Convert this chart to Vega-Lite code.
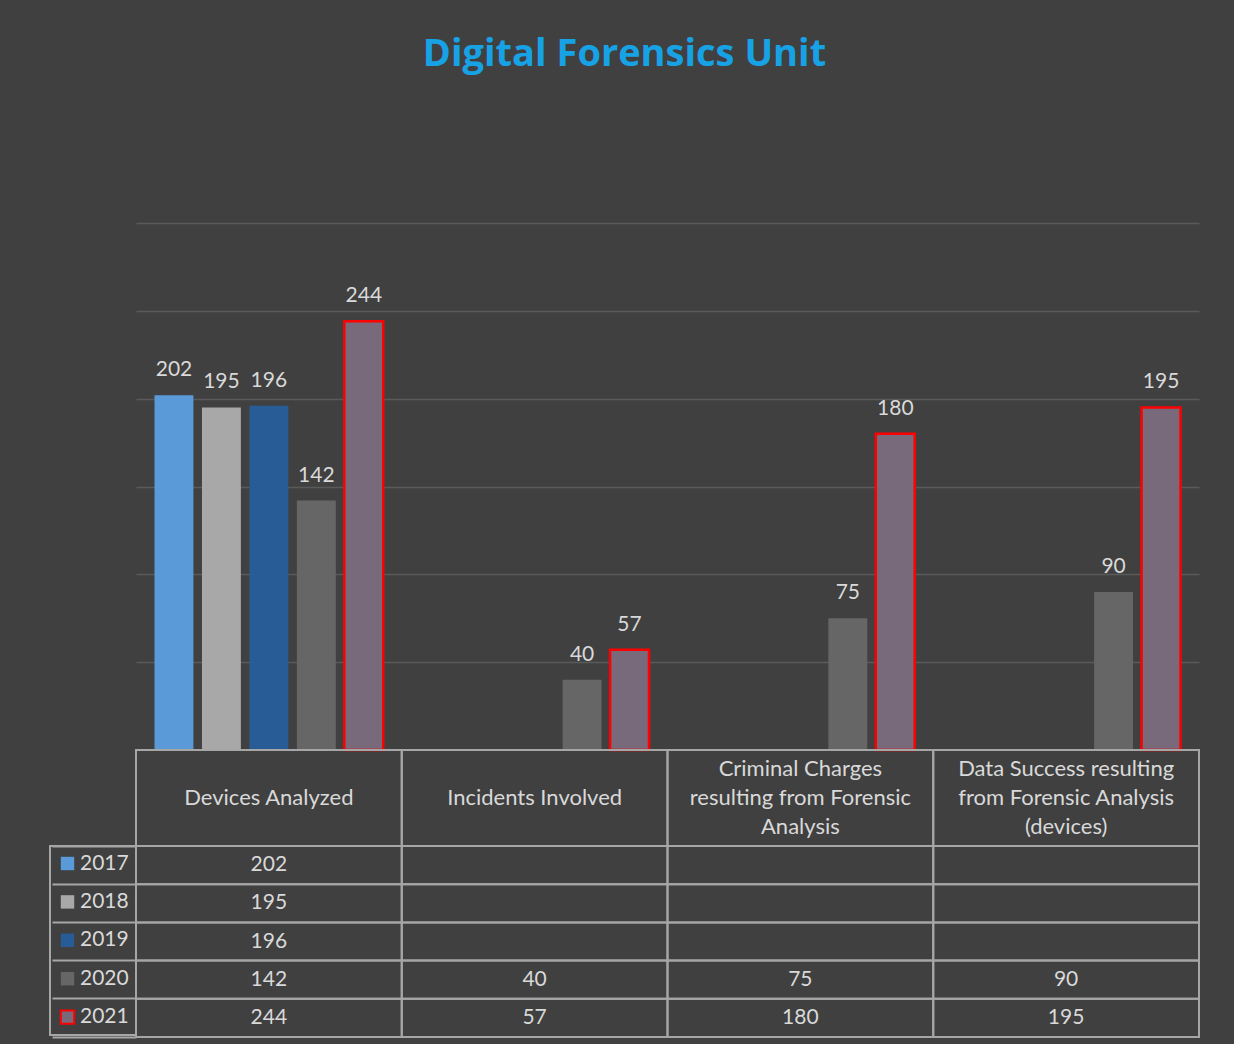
{
  "$schema": "https://vega.github.io/schema/vega-lite/v6.json",
  "background": "#404040",
  "padding": {"left": 49, "top": 36, "right": 35, "bottom": 8},
  "bounds": "flush",
  "spacing": 0,
  "title": {
    "text": "Digital Forensics Unit",
    "font": "Open Sans",
    "fontSize": 38,
    "fontWeight": "bold",
    "color": "#17a2e6",
    "anchor": "middle",
    "offset": 149
  },
  "config": {
    "view": {"stroke": null},
    "font": "Lato"
  },
  "datasets": {
    "counts": [
      {"category": "Devices Analyzed", "year": "2017", "value": 202},
      {"category": "Devices Analyzed", "year": "2018", "value": 195},
      {"category": "Devices Analyzed", "year": "2019", "value": 196},
      {"category": "Devices Analyzed", "year": "2020", "value": 142},
      {"category": "Devices Analyzed", "year": "2021", "value": 244},
      {"category": "Incidents Involved", "year": "2017", "value": null},
      {"category": "Incidents Involved", "year": "2018", "value": null},
      {"category": "Incidents Involved", "year": "2019", "value": null},
      {"category": "Incidents Involved", "year": "2020", "value": 40},
      {"category": "Incidents Involved", "year": "2021", "value": 57},
      {"category": "Criminal Charges resulting from Forensic Analysis", "year": "2017", "value": null},
      {"category": "Criminal Charges resulting from Forensic Analysis", "year": "2018", "value": null},
      {"category": "Criminal Charges resulting from Forensic Analysis", "year": "2019", "value": null},
      {"category": "Criminal Charges resulting from Forensic Analysis", "year": "2020", "value": 75},
      {"category": "Criminal Charges resulting from Forensic Analysis", "year": "2021", "value": 180},
      {"category": "Data Success resulting from Forensic Analysis (devices)", "year": "2017", "value": null},
      {"category": "Data Success resulting from Forensic Analysis (devices)", "year": "2018", "value": null},
      {"category": "Data Success resulting from Forensic Analysis (devices)", "year": "2019", "value": null},
      {"category": "Data Success resulting from Forensic Analysis (devices)", "year": "2020", "value": 90},
      {"category": "Data Success resulting from Forensic Analysis (devices)", "year": "2021", "value": 195}
    ],
    "headers": [
      {"category": "Devices Analyzed", "label": "Devices Analyzed", "lines": 1},
      {"category": "Incidents Involved", "label": "Incidents Involved", "lines": 1},
      {"category": "Criminal Charges resulting from Forensic Analysis", "label": "Criminal Charges|resulting from Forensic|Analysis", "lines": 3},
      {"category": "Data Success resulting from Forensic Analysis (devices)", "label": "Data Success resulting|from Forensic Analysis|(devices)", "lines": 3}
    ]
  },
  "resolve": {
    "scale": {"color": "independent", "x": "independent", "y": "independent"},
    "legend": {"color": "independent"}
  },
  "vconcat": [
    {
      "width": 1063,
      "height": 527,
      "data": {"name": "counts"},
      "transform": [{"filter": "isValid(datum.value)"}],
      "encoding": {
        "x": {
          "field": "category", "type": "nominal", "sort": null,
          "scale": {"domain": ["Devices Analyzed", "Incidents Involved", "Criminal Charges resulting from Forensic Analysis", "Data Success resulting from Forensic Analysis (devices)"], "paddingInner": 0, "paddingOuter": 0},
          "axis": null
        },
        "xOffset": {
          "field": "year", "type": "nominal",
          "scale": {"domain": ["2017", "2018", "2019", "2020", "2021"], "paddingInner": 0.18, "paddingOuter": 0.39}
        },
        "y": {
          "field": "value", "type": "quantitative",
          "scale": {"domain": [0, 300], "nice": false},
          "axis": {"values": [50, 100, 150, 200, 250, 300], "grid": true, "gridColor": "#5a5a5a", "gridWidth": 1.5, "labels": false, "ticks": false, "domain": false, "title": null}
        }
      },
      "layer": [
        {
          "mark": {"type": "bar", "strokeWidth": 2.5},
          "encoding": {
            "color": {
              "field": "year", "type": "nominal",
              "scale": {"domain": ["2017", "2018", "2019", "2020", "2021"], "range": ["#5a9ad8", "#a8a8a8", "#285c96", "#666666", "#786a7a"]},
              "legend": null
            },
            "stroke": {
              "field": "year", "type": "nominal",
              "scale": {"domain": ["2017", "2018", "2019", "2020", "2021"], "range": ["transparent", "transparent", "transparent", "transparent", "#ff0000"]},
              "legend": null
            }
          }
        },
        {
          "mark": {"type": "text", "dy": -25, "baseline": "middle", "fontSize": 21, "font": "Lato", "color": "#d9d9d9"},
          "encoding": {"text": {"field": "value", "type": "quantitative"}}
        }
      ]
    },
    {
      "width": 1063,
      "height": 96,
      "data": {"name": "headers"},
      "encoding": {
        "x": {
          "field": "category", "type": "nominal", "sort": null,
          "scale": {"domain": ["Devices Analyzed", "Incidents Involved", "Criminal Charges resulting from Forensic Analysis", "Data Success resulting from Forensic Analysis (devices)"], "paddingInner": 0, "paddingOuter": 0},
          "axis": null
        }
      },
      "layer": [
        {"mark": {"type": "rect", "fill": "transparent", "stroke": "#a6a6a6", "strokeWidth": 2}},
        {
          "transform": [{"filter": "datum.lines == 1"}],
          "mark": {"type": "text", "baseline": "middle", "fontSize": 22, "font": "Lato", "color": "#d9d9d9"},
          "encoding": {"text": {"field": "label", "type": "nominal"}}
        },
        {
          "transform": [{"filter": "datum.lines == 3"}],
          "mark": {"type": "text", "baseline": "middle", "fontSize": 22, "font": "Lato", "color": "#d9d9d9", "lineBreak": "|", "lineHeight": 29, "dy": -29},
          "encoding": {"text": {"field": "label", "type": "nominal"}}
        }
      ]
    },
    {
      "width": 1063,
      "height": 191,
      "data": {"name": "counts"},
      "encoding": {
        "x": {
          "field": "category", "type": "nominal", "sort": null,
          "scale": {"domain": ["Devices Analyzed", "Incidents Involved", "Criminal Charges resulting from Forensic Analysis", "Data Success resulting from Forensic Analysis (devices)"], "paddingInner": 0, "paddingOuter": 0},
          "axis": null
        },
        "y": {
          "field": "year", "type": "nominal",
          "scale": {"domain": ["2017", "2018", "2019", "2020", "2021"], "paddingInner": 0, "paddingOuter": 0},
          "axis": {"orient": "left", "labels": false, "domain": false, "ticks": true, "tickSize": 84, "tickColor": "#a6a6a6", "tickWidth": 2, "bandPosition": 1, "tickExtra": true, "title": null, "grid": false}
        }
      },
      "layer": [
        {"mark": {"type": "rect", "fill": "transparent", "stroke": "#a6a6a6", "strokeWidth": 2}},
        {
          "transform": [{"filter": "isValid(datum.value)"}],
          "mark": {"type": "text", "baseline": "middle", "fontSize": 21, "font": "Lato", "color": "#d9d9d9"},
          "encoding": {"text": {"field": "value", "type": "quantitative"}}
        },
        {
          "mark": {"type": "square", "opacity": 0},
          "encoding": {
            "color": {
              "field": "year", "type": "nominal",
              "scale": {"domain": ["2017", "2018", "2019", "2020", "2021"], "range": ["#5a9ad8", "#a8a8a8", "#285c96", "#666666", "#786a7a"]},
              "legend": {
                "orient": "left", "title": null, "symbolType": "square", "symbolSize": 180, "symbolOpacity": 1,
                "labelFontSize": 21, "labelFont": "Lato", "labelColor": "#d9d9d9", "labelOffset": 2,
                "rowPadding": 15.4, "padding": 7, "offset": -85, "strokeColor": "#a6a6a6",
                "encode": {
                  "symbols": {"update": {"stroke": {"signal": "datum.value === '2021' ? '#ff0000' : 'transparent'"}, "strokeWidth": {"value": 2}}},
                  "legend": {"update": {"strokeWidth": {"value": 2}}}
                }
              }
            }
          }
        }
      ]
    }
  ]
}
